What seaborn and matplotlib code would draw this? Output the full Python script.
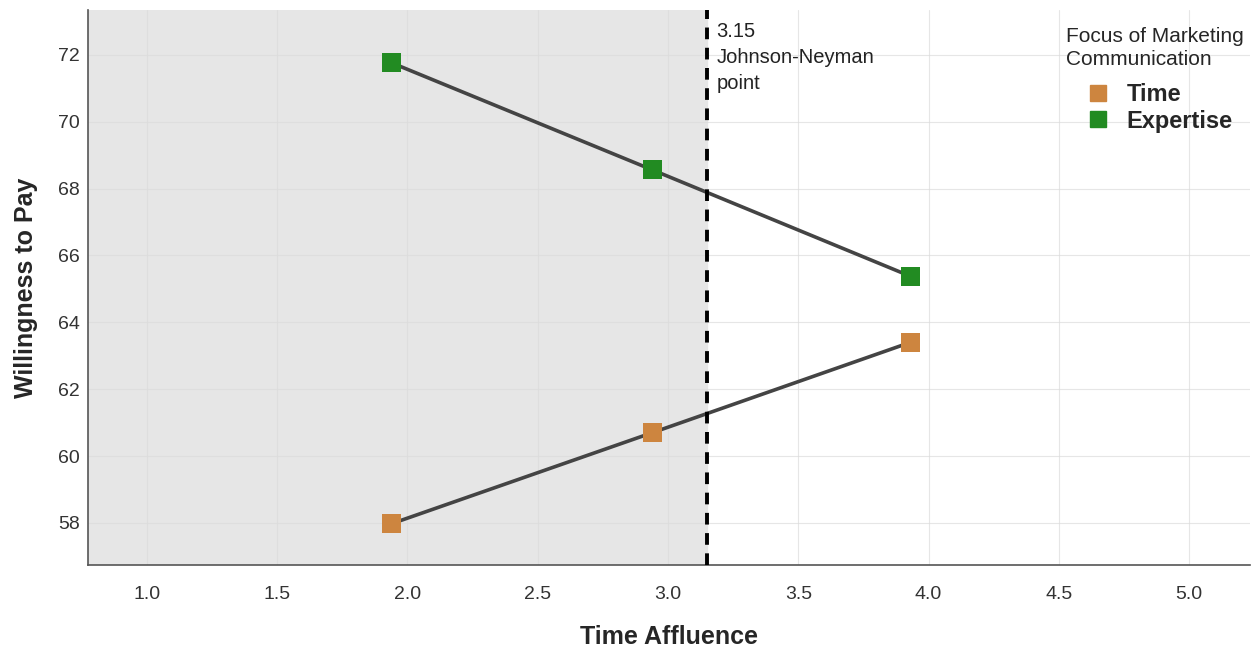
import pandas as pd
import matplotlib.pyplot as plt
import seaborn as sns
from matplotlib.lines import Line2D

# values
groups = ['Time', 'Time', 'Time', 'Expertise', 'Expertise', 'Expertise']
affluence = [1.94, 2.94, 3.93, 1.94, 2.94, 3.93]
wtp = [57.98, 60.70, 63.40, 71.76, 68.56, 65.38]
jn_point = 3.15
x_ticks = [1.0, 1.5, 2.0, 2.5, 3.0, 3.5, 4.0, 4.5, 5.0]
y_ticks = [58, 60, 62, 64, 66, 68, 70, 72]

palette = {'Time': '#CD853F', 'Expertise': '#228B22'}

df = pd.DataFrame({'group': groups, 'x': affluence, 'y': wtp})

sns.set_style('white')
plt.rcParams['font.family'] = ['Liberation Sans', 'DejaVu Sans']

fig = plt.figure(figsize=(12.55, 6.51), dpi=100)
ax = fig.add_axes([0.0701, 0.132, 0.926, 0.853])

ax.set_xlim(0.774, 5.234)
ax.set_ylim(56.74, 73.35)

# shaded region left of Johnson-Neyman point
ax.axvspan(0.774, jn_point, color='#e6e6e6', zorder=0)
ax.grid(True, color='#dcdcdc', linewidth=0.8, alpha=0.7)
ax.set_axisbelow(True)

sns.lineplot(data=df, x='x', y='y', units='group', estimator=None,
             color='#444444', linewidth=2.6, ax=ax, zorder=3)
sns.scatterplot(data=df, x='x', y='y', hue='group', palette=palette,
                marker='s', s=190, edgecolor='none', legend=False, ax=ax, zorder=4)

ax.axvline(jn_point, color='black', linestyle=(0, (3, 2.2)), linewidth=2.8, zorder=5)
ax.text(jn_point + 0.035, 72.98, f'{jn_point:.2f}\nJohnson-Neyman\npoint',
        fontsize=14.5, va='top', ha='left', color='#222222', linespacing=1.45)

ax.set_xticks(x_ticks)
ax.set_xticklabels([f'{t:.1f}' for t in x_ticks])
ax.set_yticks(y_ticks)
ax.tick_params(axis='both', length=0, labelsize=14, colors='#333333', pad=6)
ax.tick_params(axis='x', pad=15)

ax.set_xlabel('Time Affluence', fontsize=18, fontweight='bold', labelpad=16)
ax.set_ylabel('Willingness to Pay', fontsize=18, fontweight='bold', labelpad=14)

for side in ['top', 'right']:
    ax.spines[side].set_visible(False)
for side in ['left', 'bottom']:
    ax.spines[side].set_color('#555555')
    ax.spines[side].set_linewidth(1.2)

handles = [Line2D([], [], marker='s', linestyle='none', markersize=12,
                  color=palette[g]) for g in ['Time', 'Expertise']]
leg = ax.legend(handles, ['Time', 'Expertise'],
                title='Focus of Marketing\nCommunication',
                loc='upper right', bbox_to_anchor=(1.009, 0.998), frameon=False,
                prop={'weight': 'bold', 'size': 17}, title_fontsize=15,
                handlelength=2.7, handletextpad=-0.15, labelspacing=0.15,
                borderpad=0.2)
leg._legend_box.align = 'left'
leg._legend_box.sep = 10
leg.get_title().set_linespacing(1.25)

fig.savefig('out.png', dpi=100)
